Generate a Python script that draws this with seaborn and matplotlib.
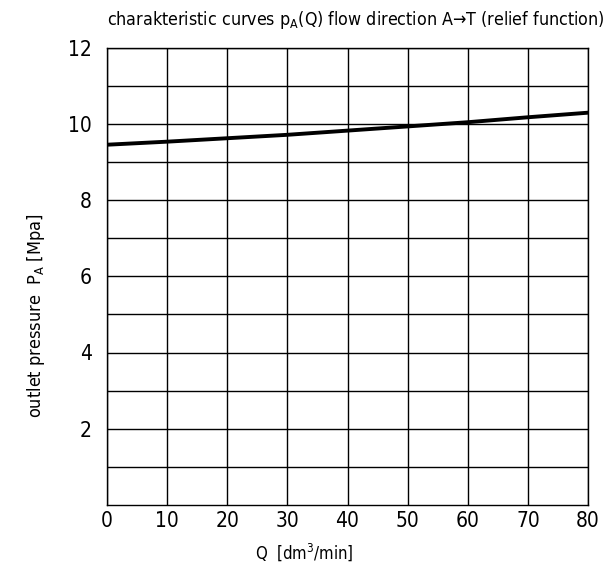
import matplotlib
matplotlib.use("Agg")
import matplotlib.pyplot as plt
import seaborn as sns
import pandas as pd

flow = [0, 10, 20, 30, 40, 50, 60, 70, 80]
pressure = [9.45, 9.53, 9.62, 9.71, 9.82, 9.93, 10.04, 10.17, 10.29]
x_ticks = [0, 10, 20, 30, 40, 50, 60, 70, 80]
y_ticks = [2, 4, 6, 8, 10, 12]
y_minor = [1, 3, 5, 7, 9, 11]

df = pd.DataFrame({"Q": flow, "p": pressure})

sns.set_theme(style="white")
plt.rcParams['font.family'] = ['DejaVu Sans']

fig = plt.figure(figsize=(6.06, 5.68), dpi=100)
ax = fig.add_axes([107/606, 1-505/568, (588-107)/606, (505-47.5)/568])

sns.lineplot(data=df, x="Q", y="p", ax=ax, color="black", linewidth=2.8)

ax.set_xlim(0, 80)
ax.set_ylim(0, 12)
ax.set_xticks(x_ticks)
ax.set_yticks(y_ticks)
ax.set_yticks(y_minor, minor=True)
ax.grid(True, which="both", axis="y", color="black", linewidth=1.0)
ax.grid(True, which="major", axis="x", color="black", linewidth=1.0)
ax.set_axisbelow(True)
for s in ax.spines.values():
    s.set_color("black")
    s.set_linewidth(1.0)
ax.tick_params(axis="both", which="both", length=0)
ax.tick_params(axis="y", pad=11, labelsize=15)
ax.tick_params(axis="x", pad=4, labelsize=15)
for lab in ax.get_xticklabels() + ax.get_yticklabels():
    lab.set_fontstretch("condensed")
    lab.set_color("black")
ax.set_xlabel("")
ax.set_ylabel("")

fig.text(36/606, 1-316/568, r"outlet pressure  P$_\mathregular{A}$ [Mpa]",
         rotation=90, ha="center", va="center", fontsize=13,
         fontstretch="condensed", color="black")
fig.text(304/606, 1-552/568, r"Q  [dm$^\mathregular{3}$/min]",
         ha="center", va="center", fontsize=12, fontstretch="condensed",
         color="black")
fig.text(107/606, 1-20/568,
         r"charakteristic curves p$_\mathregular{A}$(Q) flow direction A→T (relief function)",
         ha="left", va="center", fontsize=12.8, fontstretch="condensed",
         color="black")

fig.savefig("out.png", dpi=100)
